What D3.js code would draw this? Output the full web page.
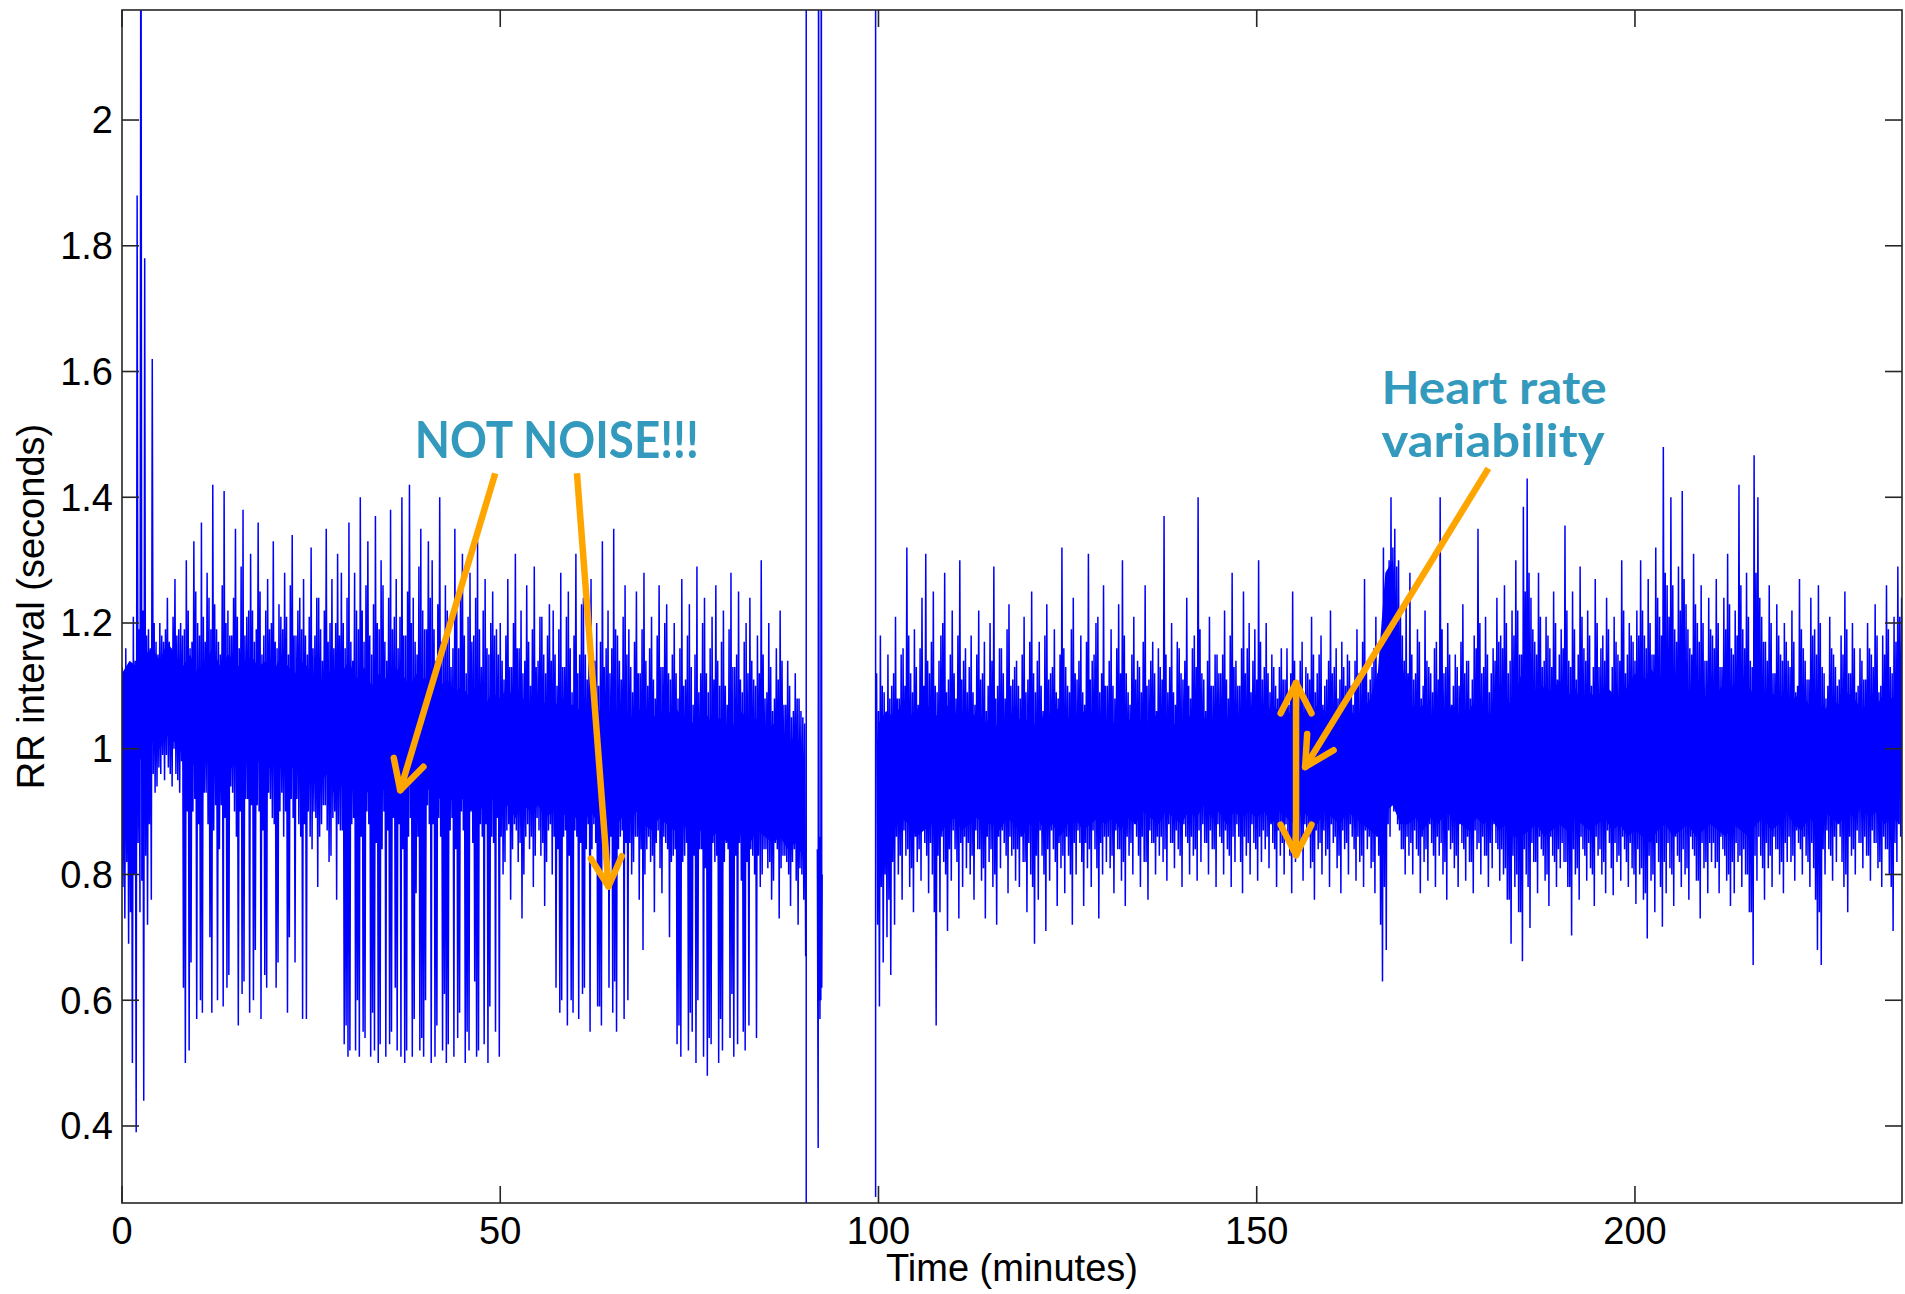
<!DOCTYPE html>
<html>
<head>
<meta charset="utf-8">
<script src="https://cdn.jsdelivr.net/npm/d3@7"></script>
<style>
  html, body { margin: 0; padding: 0; background: #ffffff; }
  svg { display: block; }
</style>
</head>
<body>
<svg id="chart" width="1905" height="1294"></svg>
<script>
// RR-interval record, decimated to half-minute bins. For every bin:
// Hi / Lo   - longest and shortest beat-to-beat interval (seconds)
// Hi2 / Lo2 - second longest and second shortest interval
const binMinutes = 0.5;

// First recording segment, 0 - 90 min
const seg1Start = 0;
const seg1Hi = [
  1.13, 1.16, 1.12, 1.21, 1.88, 2.60, 1.78, 1.19, 1.62, 1.17, 1.20,
  1.17, 1.24, 1.16, 1.27, 1.19,
  1.18, 1.30, 1.16, 1.33, 1.20, 1.36, 1.17, 1.24, 1.42, 1.19, 1.15, 1.41, 1.22, 1.18, 1.35, 1.16, 1.38, 1.21,
  1.31, 1.17, 1.36, 1.15, 1.22, 1.19, 1.33, 1.16, 1.21, 1.28, 1.15, 1.34, 1.18, 1.24,
  1.27, 1.15, 1.32, 1.18, 1.24, 1.14, 1.35, 1.20, 1.16, 1.31,
  1.28, 1.16, 1.36, 1.14, 1.22, 1.40, 1.17, 1.33, 1.15, 1.37, 1.19, 1.26, 1.14, 1.38, 1.21, 1.16, 1.40, 1.18, 1.42, 1.24, 1.15, 1.35, 1.19, 1.33,
  1.30, 1.14, 1.40, 1.17, 1.22, 1.13, 1.35, 1.16, 1.31, 1.12, 1.28, 1.18, 1.33, 1.13, 1.27, 1.15, 1.25, 1.19,
  1.20, 1.11, 1.27, 1.13, 1.31, 1.16, 1.12, 1.26, 1.10, 1.29, 1.14, 1.21, 1.12, 1.23,
  1.22, 1.10, 1.28, 1.13, 1.25, 1.09, 1.31, 1.15, 1.24, 1.11, 1.27, 1.14, 1.10, 1.33, 1.16, 1.12, 1.35, 1.18, 1.11, 1.26,
  1.19, 1.09, 1.25, 1.12, 1.28, 1.10, 1.21, 1.08, 1.26, 1.13, 1.23, 1.11,
  1.20, 1.08, 1.27, 1.11, 1.23, 1.07, 1.29, 1.12, 1.24, 1.09, 1.21, 1.26, 1.10, 1.22, 1.07, 1.28, 1.13, 1.25, 1.09, 1.20, 1.24, 1.11,
  1.18, 1.30, 1.08, 1.20, 1.06, 1.16, 1.22, 1.07, 1.14, 1.05, 1.12, 1.08, 1.05
];
const seg1Hi2 = [
  1.10, 1.12, 1.08, 1.14, 1.19, 1.22, 1.18, 1.16, 1.20, 1.15, 1.18,
  1.19, 1.17, 1.21, 1.18, 1.20,
  1.19, 1.22, 1.17, 1.25, 1.18, 1.21, 1.28, 1.19, 1.23, 1.17, 1.26, 1.20, 1.18, 1.24, 1.21, 1.29, 1.18, 1.22,
  1.22, 1.19, 1.25, 1.18, 1.27, 1.20, 1.17, 1.23, 1.19, 1.21, 1.26, 1.18, 1.22, 1.19,
  1.18, 1.21, 1.16, 1.24, 1.19, 1.22, 1.17, 1.27, 1.20, 1.18,
  1.20, 1.24, 1.17, 1.28, 1.19, 1.22, 1.26, 1.18, 1.23, 1.20, 1.30, 1.17, 1.24, 1.19, 1.27, 1.21, 1.18, 1.25, 1.20, 1.17, 1.29, 1.22, 1.19, 1.24,
  1.19, 1.23, 1.17, 1.26, 1.20, 1.16, 1.22, 1.25, 1.18, 1.21, 1.17, 1.24, 1.19, 1.22, 1.16, 1.20, 1.18, 1.15,
  1.14, 1.18, 1.13, 1.20, 1.16, 1.22, 1.14, 1.17, 1.19, 1.13, 1.21, 1.15, 1.18, 1.14,
  1.15, 1.19, 1.13, 1.21, 1.16, 1.18, 1.12, 1.23, 1.15, 1.19, 1.14, 1.20, 1.17, 1.13, 1.22, 1.16, 1.19, 1.14, 1.21, 1.15,
  1.13, 1.17, 1.12, 1.19, 1.14, 1.16, 1.11, 1.18, 1.13, 1.20, 1.12, 1.15,
  1.12, 1.16, 1.10, 1.18, 1.13, 1.15, 1.09, 1.20, 1.12, 1.16, 1.11, 1.14, 1.17, 1.10, 1.19, 1.13, 1.15, 1.11, 1.17, 1.12, 1.14, 1.10,
  1.12, 1.15, 1.09, 1.13, 1.08, 1.11, 1.14, 1.07, 1.10, 1.06, 1.08, 1.06, 1.04
];
const seg1Lo = [
  0.73, 0.69, 0.50, 0.39, 0.74, 0.44, 0.72, 0.76, 0.93, 0.97, 0.99,
  0.99, 0.96, 1.00, 0.95, 0.98,
  0.50, 0.52, 0.90, 0.57, 0.60, 0.93, 0.88, 0.58, 0.91, 0.84, 0.59, 0.62, 0.94, 0.90, 0.56, 0.61, 0.92, 0.58,
  0.60, 0.91, 0.57, 0.64, 0.93, 0.89, 0.62, 0.90, 0.86, 0.58, 0.92, 0.66, 0.88, 0.57,
  0.57, 0.86, 0.90, 0.78, 0.88, 0.91, 0.82, 0.89, 0.76, 0.87,
  0.53, 0.51, 0.88, 0.52, 0.51, 0.55, 0.90, 0.51, 0.52, 0.50, 0.84, 0.51, 0.53, 0.89, 0.52, 0.51, 0.50, 0.86, 0.51, 0.77, 0.52, 0.51, 0.91, 0.50,
  0.51, 0.89, 0.52, 0.50, 0.87, 0.51, 0.54, 0.90, 0.50, 0.52, 0.85, 0.51, 0.88, 0.53, 0.50, 0.86, 0.55, 0.51,
  0.80, 0.87, 0.76, 0.88, 0.82, 0.73, 0.86, 0.84, 0.78, 0.89, 0.83, 0.75, 0.87, 0.80,
  0.62, 0.58, 0.86, 0.56, 0.60, 0.87, 0.57, 0.61, 0.84, 0.55, 0.88, 0.59, 0.56, 0.85, 0.62, 0.58, 0.55, 0.86, 0.57, 0.60,
  0.80, 0.86, 0.76, 0.68, 0.84, 0.82, 0.74, 0.87, 0.77, 0.85, 0.70, 0.83,
  0.53, 0.51, 0.83, 0.52, 0.55, 0.50, 0.84, 0.51, 0.48, 0.53, 0.82, 0.50, 0.52, 0.85, 0.54, 0.51, 0.53, 0.79, 0.52, 0.56, 0.83, 0.54,
  0.78, 0.84, 0.81, 0.76, 0.85, 0.73, 0.83, 0.82, 0.75, 0.84, 0.72, 0.80, 0.67
];
const seg1Lo2 = [
  0.78, 0.82, 0.74, 0.80, 0.85, 0.79, 0.83, 0.88, 0.96, 0.94, 0.96,
  0.95, 0.97, 0.94, 0.96, 0.93,
  0.62, 0.90, 0.66, 0.92, 0.88, 0.58, 0.93, 0.70, 0.87, 0.60, 0.91, 0.89, 0.64, 0.93, 0.86, 0.90, 0.63, 0.92,
  0.91, 0.68, 0.90, 0.87, 0.62, 0.92, 0.88, 0.66, 0.93, 0.90, 0.70, 0.89, 0.92, 0.86,
  0.88, 0.90, 0.84, 0.89, 0.86, 0.91, 0.87, 0.83, 0.90, 0.88,
  0.87, 0.56, 0.52, 0.89, 0.60, 0.86, 0.54, 0.88, 0.58, 0.85, 0.53, 0.90, 0.87, 0.55, 0.62, 0.88, 0.84, 0.52, 0.89, 0.57, 0.86, 0.54, 0.60, 0.88,
  0.88, 0.56, 0.86, 0.61, 0.53, 0.89, 0.84, 0.58, 0.87, 0.55, 0.90, 0.63, 0.52, 0.86, 0.88, 0.59, 0.85, 0.89,
  0.86, 0.82, 0.88, 0.84, 0.87, 0.85, 0.80, 0.88, 0.86, 0.83, 0.87, 0.85, 0.82, 0.88,
  0.86, 0.84, 0.60, 0.87, 0.83, 0.58, 0.86, 0.85, 0.62, 0.88, 0.84, 0.85, 0.59, 0.87, 0.82, 0.86, 0.63, 0.84, 0.87, 0.85,
  0.85, 0.82, 0.86, 0.84, 0.80, 0.86, 0.83, 0.85, 0.81, 0.86, 0.84, 0.82,
  0.84, 0.56, 0.82, 0.85, 0.58, 0.83, 0.60, 0.84, 0.81, 0.54, 0.85, 0.83, 0.57, 0.82, 0.84, 0.61, 0.83, 0.85, 0.55, 0.82, 0.84, 0.80,
  0.83, 0.80, 0.84, 0.82, 0.79, 0.84, 0.81, 0.83, 0.80, 0.82, 0.79, 0.81, 0.76
];
// Dense band of the first segment, one value per minute (0 - 90 min)
const seg1CoreTop = [
  1.12, 1.14, 1.13, 1.15, 1.16, 1.14, 1.17, 1.15,
  1.13, 1.15, 1.12, 1.14, 1.16, 1.13, 1.15, 1.14, 1.12, 1.15, 1.13, 1.14, 1.12, 1.15, 1.13, 1.12, 1.14,
  1.12, 1.10, 1.13, 1.11, 1.12, 1.14, 1.11, 1.13, 1.10, 1.12, 1.11, 1.13, 1.12, 1.10, 1.12, 1.11, 1.13, 1.10, 1.11, 1.09,
  1.10, 1.08, 1.09, 1.07, 1.09, 1.08, 1.10, 1.07, 1.08, 1.06, 1.09, 1.07, 1.08, 1.06, 1.07,
  1.07, 1.05, 1.08, 1.06, 1.07, 1.05, 1.06, 1.04, 1.07, 1.05, 1.06, 1.04, 1.05, 1.07, 1.05,
  1.05, 1.03, 1.06, 1.04, 1.05, 1.03, 1.04, 1.06, 1.03, 1.05, 1.02, 1.04, 1.03, 1.01, 1.02, 1.00
];
const seg1CoreBottom = [
  0.98, 0.96, 0.97, 1.00, 1.01, 1.00, 1.02, 1.01,
  0.99, 0.97, 0.98, 0.99, 0.97, 0.98, 0.96, 0.98, 0.99, 0.97, 0.98, 0.96, 0.98, 0.97, 0.98, 0.96, 0.97,
  0.95, 0.94, 0.96, 0.93, 0.94, 0.95, 0.93, 0.94, 0.92, 0.94, 0.93, 0.95, 0.93, 0.94, 0.92, 0.93, 0.94, 0.92, 0.93, 0.91,
  0.92, 0.90, 0.91, 0.90, 0.92, 0.90, 0.91, 0.89, 0.91, 0.90, 0.91, 0.89, 0.90, 0.89, 0.90,
  0.89, 0.88, 0.90, 0.88, 0.89, 0.87, 0.89, 0.88, 0.90, 0.88, 0.87, 0.89, 0.88, 0.87, 0.88,
  0.87, 0.86, 0.88, 0.86, 0.87, 0.85, 0.87, 0.86, 0.85, 0.87, 0.86, 0.85, 0.86, 0.84, 0.85, 0.83
];

// Short burst of beats recorded around 92 min
const seg2Times  = [91.92, 91.98, 92.03, 92.08, 92.14, 92.20, 92.26, 92.32, 92.38, 92.44, 92.50, 92.56];
const seg2Values = [0.84, 0.58, 0.365, 2.60, 0.60, 0.86, 0.57, 0.82, 0.60, 2.60, 0.62, 0.80];

// Second recording segment, 100 - 235 min
const seg3Start = 99.75;
const seg3Hi = [
  1.12, 1.18, 1.09, 1.15,
  1.10, 1.21, 1.08, 1.16, 1.32, 1.12, 1.19, 1.07, 1.24, 1.31,
  1.12, 1.25, 1.09, 1.18, 1.28, 1.11, 1.22, 1.08, 1.30, 1.14,
  1.09, 1.18, 1.07, 1.22, 1.12, 1.06, 1.20, 1.29, 1.10, 1.16, 1.08, 1.23, 1.11,
  1.14, 1.08, 1.21, 1.11, 1.25, 1.09, 1.17, 1.06, 1.23, 1.12, 1.19, 1.08,
  1.32, 1.13, 1.09, 1.24, 1.11, 1.18, 1.07, 1.31, 1.14, 1.20, 1.09, 1.26,
  1.10, 1.19, 1.08, 1.23, 1.30, 1.12, 1.07, 1.21, 1.14, 1.09, 1.26, 1.11, 1.17, 1.06,
  1.13, 1.37, 1.09, 1.20, 1.07, 1.16, 1.11, 1.24, 1.08, 1.18, 1.40, 1.12, 1.06, 1.21, 1.10, 1.15,
  1.12, 1.22, 1.08, 1.28, 1.14, 1.10, 1.25, 1.16, 1.09, 1.19, 1.30, 1.11,
  1.20, 1.09, 1.13, 1.08, 1.16, 1.11, 1.07, 1.25, 1.10, 1.14, 1.08, 1.12, 1.21, 1.09, 1.15,
  1.07, 1.11, 1.22, 1.13, 1.08, 1.17, 1.10, 1.14, 1.07, 1.19, 1.11, 1.27, 1.09, 1.13, 1.21,
  1.12, 1.32, 1.28, 1.40, 1.35, 1.30, 1.18, 1.24,
  1.28, 1.11, 1.19, 1.08, 1.22, 1.13, 1.09, 1.17, 1.40, 1.12, 1.20, 1.07, 1.15, 1.10, 1.23, 1.14, 1.08, 1.18, 1.35, 1.12, 1.21, 1.09, 1.16, 1.24,
  1.18, 1.26, 1.12, 1.22, 1.30, 1.15, 1.385, 1.43, 1.24, 1.17, 1.28, 1.13, 1.21, 1.16, 1.25, 1.11,
  1.19, 1.355, 1.14, 1.25, 1.11, 1.29, 1.16, 1.22, 1.10, 1.27, 1.13, 1.18, 1.24, 1.09, 1.21, 1.15, 1.30, 1.12, 1.20, 1.17,
  1.22, 1.30, 1.18, 1.27, 1.15, 1.32, 1.21, 1.48, 1.26, 1.40, 1.19, 1.29, 1.41, 1.23, 1.16, 1.31, 1.20, 1.26, 1.14, 1.24,
  1.18, 1.27, 1.13, 1.24, 1.31, 1.16, 1.22, 1.42, 1.19, 1.28, 1.14, 1.467, 1.40, 1.21, 1.17, 1.26, 1.12, 1.23, 1.15, 1.20,
  1.14, 1.22, 1.09, 1.27, 1.16, 1.11, 1.24, 1.19, 1.26, 1.13, 1.08, 1.21, 1.15, 1.10, 1.18, 1.25, 1.12, 1.20, 1.09, 1.16,
  1.11, 1.20, 1.15, 1.23, 1.09, 1.18, 1.26, 1.13, 1.21, 1.29, 1.24
];
const seg3Hi2 = [
  1.06, 1.10, 1.04, 1.08,
  1.12, 1.08, 1.15, 1.10, 1.18, 1.09, 1.13, 1.16, 1.10, 1.14,
  1.17, 1.10, 1.14, 1.20, 1.09, 1.15, 1.12, 1.18, 1.11, 1.16,
  1.13, 1.09, 1.15, 1.11, 1.17, 1.10, 1.14, 1.08, 1.16, 1.12, 1.19, 1.10, 1.13,
  1.10, 1.15, 1.09, 1.17, 1.12, 1.14, 1.10, 1.18, 1.11, 1.13, 1.09, 1.15,
  1.16, 1.10, 1.19, 1.12, 1.14, 1.09, 1.17, 1.11, 1.15, 1.21, 1.12, 1.10,
  1.14, 1.10, 1.16, 1.12, 1.18, 1.09, 1.15, 1.11, 1.13, 1.17, 1.10, 1.14, 1.12, 1.16,
  1.11, 1.15, 1.13, 1.09, 1.17, 1.12, 1.14, 1.10, 1.16, 1.13, 1.19, 1.11, 1.14, 1.10, 1.15, 1.12,
  1.15, 1.11, 1.18, 1.13, 1.10, 1.16, 1.12, 1.20, 1.14, 1.11, 1.17, 1.13,
  1.12, 1.15, 1.10, 1.13, 1.11, 1.16, 1.12, 1.14, 1.10, 1.17, 1.13, 1.11, 1.15, 1.12, 1.18,
  1.10, 1.14, 1.12, 1.16, 1.11, 1.13, 1.15, 1.10, 1.14, 1.12, 1.17, 1.13, 1.11, 1.16, 1.12,
  1.10, 1.20, 1.30, 1.32, 1.29, 1.22, 1.14, 1.12,
  1.15, 1.12, 1.17, 1.10, 1.14, 1.12, 1.16, 1.11, 1.19, 1.13, 1.15, 1.10, 1.13, 1.17, 1.12, 1.14, 1.11, 1.16, 1.20, 1.13, 1.15, 1.12, 1.14, 1.17,
  1.16, 1.20, 1.14, 1.18, 1.22, 1.15, 1.25, 1.28, 1.19, 1.15, 1.21, 1.14, 1.18, 1.13, 1.20, 1.15,
  1.16, 1.22, 1.13, 1.19, 1.15, 1.21, 1.14, 1.18, 1.13, 1.20, 1.16, 1.14, 1.19, 1.13, 1.17, 1.14, 1.22, 1.15, 1.18, 1.14,
  1.18, 1.22, 1.16, 1.20, 1.15, 1.24, 1.18, 1.28, 1.21, 1.26, 1.17, 1.22, 1.27, 1.19, 1.15, 1.23, 1.17, 1.20, 1.14, 1.19,
  1.16, 1.20, 1.13, 1.19, 1.23, 1.15, 1.18, 1.26, 1.16, 1.21, 1.13, 1.28, 1.24, 1.17, 1.14, 1.20, 1.12, 1.18, 1.14, 1.17,
  1.13, 1.17, 1.10, 1.19, 1.14, 1.11, 1.18, 1.15, 1.20, 1.12, 1.10, 1.16, 1.13, 1.11, 1.15, 1.19, 1.12, 1.16, 1.10, 1.14,
  1.11, 1.16, 1.13, 1.18, 1.10, 1.15, 1.19, 1.12, 1.17, 1.21, 1.18
];
const seg3Lo = [
  0.59, 0.66, 0.70, 0.64,
  0.72, 0.80, 0.76, 0.83, 0.78, 0.74, 0.82, 0.79, 0.85, 0.77,
  0.80, 0.56, 0.74, 0.82, 0.71, 0.79, 0.84, 0.73, 0.78, 0.81,
  0.80, 0.76, 0.84, 0.79, 0.73, 0.82, 0.78, 0.72, 0.81, 0.85, 0.77, 0.83, 0.79,
  0.78, 0.82, 0.74, 0.80, 0.69, 0.76, 0.83, 0.71, 0.79, 0.84, 0.75, 0.81,
  0.77, 0.83, 0.72, 0.80, 0.85, 0.75, 0.81, 0.78, 0.84, 0.73, 0.80, 0.82,
  0.81, 0.77, 0.84, 0.79, 0.75, 0.83, 0.80, 0.86, 0.78, 0.82, 0.76, 0.85, 0.80, 0.83,
  0.82, 0.79, 0.85, 0.81, 0.84, 0.78, 0.86, 0.80, 0.83, 0.79, 0.82, 0.85, 0.80, 0.84, 0.78, 0.86,
  0.80, 0.84, 0.78, 0.82, 0.86, 0.77, 0.83, 0.80, 0.85, 0.79, 0.82, 0.84,
  0.81, 0.85, 0.78, 0.83, 0.80, 0.86, 0.77, 0.82, 0.84, 0.79, 0.86, 0.81, 0.76, 0.84, 0.80,
  0.83, 0.78, 0.85, 0.81, 0.77, 0.84, 0.80, 0.86, 0.79, 0.82, 0.78, 0.84, 0.81, 0.77, 0.83,
  0.63, 0.68, 0.86, 0.90, 0.88, 0.84, 0.80, 0.83,
  0.80, 0.84, 0.77, 0.82, 0.79, 0.85, 0.78, 0.83, 0.80, 0.76, 0.84, 0.81, 0.78, 0.85, 0.79, 0.82, 0.77, 0.84, 0.80, 0.83, 0.78, 0.81, 0.85, 0.79,
  0.80, 0.76, 0.69, 0.78, 0.74, 0.662, 0.80, 0.715, 0.82, 0.77, 0.84, 0.79, 0.75, 0.83, 0.78, 0.81,
  0.82, 0.78, 0.703, 0.80, 0.76, 0.84, 0.79, 0.81, 0.75, 0.83, 0.80, 0.77, 0.85, 0.767, 0.82, 0.79, 0.84, 0.78, 0.81, 0.753,
  0.80, 0.76, 0.698, 0.79, 0.74, 0.82, 0.717, 0.77, 0.81, 0.75, 0.83, 0.78, 0.80, 0.76, 0.84, 0.79, 0.73, 0.81, 0.77, 0.82,
  0.81, 0.77, 0.84, 0.79, 0.75, 0.77, 0.82, 0.78, 0.80, 0.74, 0.656, 0.79, 0.83, 0.76, 0.81, 0.78, 0.84, 0.80, 0.77, 0.82,
  0.82, 0.79, 0.85, 0.80, 0.83, 0.78, 0.81, 0.68, 0.656, 0.80, 0.84, 0.79, 0.82, 0.86, 0.78, 0.74, 0.83, 0.80, 0.85, 0.81,
  0.83, 0.79, 0.85, 0.81, 0.78, 0.84, 0.80, 0.71, 0.82, 0.86, 0.80
];
const seg3Lo2 = [
  0.72, 0.78, 0.80, 0.76,
  0.82, 0.86, 0.83, 0.87, 0.84, 0.81, 0.86, 0.84, 0.88, 0.83,
  0.85, 0.74, 0.83, 0.86, 0.80, 0.84, 0.87, 0.82, 0.85, 0.86,
  0.85, 0.83, 0.87, 0.84, 0.81, 0.86, 0.84, 0.80, 0.86, 0.87, 0.83, 0.86, 0.84,
  0.84, 0.86, 0.82, 0.85, 0.78, 0.83, 0.87, 0.80, 0.84, 0.87, 0.82, 0.85,
  0.83, 0.86, 0.80, 0.85, 0.87, 0.82, 0.85, 0.84, 0.87, 0.81, 0.85, 0.86,
  0.86, 0.83, 0.87, 0.84, 0.82, 0.86, 0.85, 0.88, 0.83, 0.86, 0.82, 0.87, 0.85, 0.86,
  0.86, 0.84, 0.88, 0.85, 0.87, 0.83, 0.88, 0.85, 0.86, 0.84, 0.87, 0.88, 0.85, 0.87, 0.84, 0.88,
  0.85, 0.87, 0.83, 0.86, 0.88, 0.82, 0.86, 0.85, 0.88, 0.84, 0.86, 0.87,
  0.86, 0.88, 0.84, 0.87, 0.85, 0.88, 0.83, 0.86, 0.87, 0.84, 0.88, 0.86, 0.82, 0.87, 0.85,
  0.87, 0.84, 0.88, 0.86, 0.83, 0.87, 0.85, 0.88, 0.84, 0.86, 0.83, 0.87, 0.86, 0.82, 0.86,
  0.72, 0.78, 0.88, 0.91, 0.90, 0.87, 0.84, 0.86,
  0.85, 0.87, 0.83, 0.86, 0.84, 0.88, 0.83, 0.86, 0.85, 0.82, 0.87, 0.85, 0.83, 0.88, 0.84, 0.86, 0.82, 0.87, 0.85, 0.86, 0.83, 0.85, 0.88, 0.84,
  0.84, 0.81, 0.76, 0.83, 0.80, 0.74, 0.84, 0.78, 0.85, 0.82, 0.86, 0.83, 0.80, 0.86, 0.82, 0.84,
  0.85, 0.82, 0.78, 0.84, 0.81, 0.86, 0.83, 0.85, 0.80, 0.86, 0.84, 0.82, 0.87, 0.81, 0.85, 0.83, 0.86, 0.82, 0.85, 0.80,
  0.84, 0.81, 0.77, 0.83, 0.80, 0.85, 0.78, 0.82, 0.85, 0.80, 0.86, 0.82, 0.84, 0.81, 0.86, 0.83, 0.79, 0.85, 0.82, 0.85,
  0.85, 0.82, 0.86, 0.83, 0.80, 0.82, 0.85, 0.83, 0.84, 0.80, 0.74, 0.83, 0.86, 0.81, 0.85, 0.83, 0.86, 0.84, 0.82, 0.85,
  0.86, 0.83, 0.87, 0.84, 0.86, 0.82, 0.85, 0.76, 0.74, 0.84, 0.87, 0.83, 0.86, 0.88, 0.82, 0.80, 0.86, 0.84, 0.87, 0.85,
  0.86, 0.83, 0.87, 0.85, 0.82, 0.86, 0.84, 0.78, 0.85, 0.88, 0.84
];
// Dense band of the second segment, one value per minute (100 - 235 min)
const seg3CoreStart = 100;
const seg3CoreTop = [
  1.04, 1.06, 1.05, 1.07, 1.05, 1.06, 1.08, 1.06, 1.05, 1.07, 1.06, 1.04, 1.06, 1.05, 1.04,
  1.05, 1.03, 1.05, 1.06, 1.04, 1.05, 1.03, 1.06, 1.05, 1.07, 1.05, 1.04, 1.06, 1.05, 1.04,
  1.05, 1.04, 1.06, 1.05, 1.03, 1.05, 1.04, 1.06, 1.05, 1.04, 1.03, 1.05, 1.07, 1.05, 1.04, 1.06, 1.05, 1.04, 1.06, 1.05,
  1.06, 1.05, 1.07, 1.06, 1.05, 1.07, 1.06, 1.05, 1.07, 1.06, 1.05, 1.06, 1.07, 1.05, 1.06, 1.08,
  1.12, 1.28, 1.30, 1.15,
  1.08, 1.06, 1.07, 1.05, 1.08, 1.06, 1.07, 1.05, 1.06, 1.08, 1.07, 1.05, 1.06, 1.07, 1.08,
  1.12, 1.10, 1.08, 1.10, 1.09, 1.11, 1.08, 1.10, 1.07, 1.09, 1.08, 1.10, 1.09, 1.07, 1.10,
  1.12, 1.10, 1.13, 1.11, 1.09, 1.12, 1.10, 1.08, 1.10, 1.09, 1.07, 1.09, 1.11, 1.10, 1.12,
  1.10, 1.08, 1.07, 1.09, 1.08, 1.06, 1.08, 1.09, 1.07, 1.08, 1.06, 1.08, 1.07, 1.09, 1.08, 1.06, 1.08, 1.07, 1.09, 1.08, 1.10
];
const seg3CoreBottom = [
  0.86, 0.88, 0.87, 0.89, 0.88, 0.86, 0.87, 0.88, 0.86, 0.88, 0.89, 0.87, 0.88, 0.89, 0.88,
  0.88, 0.87, 0.89, 0.88, 0.86, 0.88, 0.89, 0.87, 0.88, 0.86, 0.88, 0.89, 0.87, 0.88, 0.89,
  0.88, 0.89, 0.87, 0.89, 0.88, 0.90, 0.89, 0.88, 0.90, 0.89, 0.88, 0.90, 0.89, 0.91, 0.89, 0.90, 0.88, 0.90, 0.89, 0.90,
  0.89, 0.90, 0.88, 0.90, 0.89, 0.88, 0.90, 0.89, 0.88, 0.90, 0.89, 0.88, 0.90, 0.89, 0.88, 0.87,
  0.86, 0.90, 0.91, 0.88,
  0.88, 0.89, 0.87, 0.89, 0.88, 0.90, 0.89, 0.88, 0.87, 0.89, 0.88, 0.89, 0.87, 0.88, 0.86,
  0.86, 0.87, 0.88, 0.86, 0.87, 0.88, 0.87, 0.89, 0.88, 0.87, 0.88, 0.89, 0.87, 0.88, 0.86,
  0.87, 0.86, 0.85, 0.87, 0.88, 0.86, 0.87, 0.88, 0.86, 0.87, 0.88, 0.87, 0.86, 0.88, 0.87,
  0.86, 0.88, 0.89, 0.87, 0.88, 0.90, 0.88, 0.87, 0.89, 0.88, 0.90, 0.89, 0.88, 0.90, 0.89, 0.91, 0.89, 0.90, 0.88, 0.89, 0.88
];

// Lead-off artefacts that run past both ends of the axis
const artefactTimes = [90.45, 99.62];
const artefactLow   = [0.10, 0.287];
const artefactHigh  = [3.00, 3.00];

// Axes
const xDomain = [0, 235.3];
const yDomain = [0.2775, 2.175];
const xTicks = [0, 50, 100, 150, 200];
const yTicks = [0.4, 0.6, 0.8, 1, 1.2, 1.4, 1.6, 1.8, 2];
const xTitle = "Time (minutes)";
const yTitle = "RR interval (seconds)";

// Annotations, placed in data units (minutes, seconds)
const noiseLabel = { text: "NOT NOISE!!!", t: 38.7, v: 1.462 };
const noiseArrows = [
  { from: [49.34, 1.438], to: [36.78, 0.934] },
  { from: [60.14, 1.438], to: [64.31, 0.781] }
];
const hrvLabel = [
  { text: "Heart rate",  t: 166.5, v: 1.549 },
  { text: "variability", t: 166.5, v: 1.4645 }
];
const hrvArrow = { from: [180.62, 1.446], to: [156.40, 0.971] };
const hrvRange = { t: 155.2, lo: 0.831, hi: 1.1046 };

// ---------------------------------------------------------------------------
const W = 1905, H = 1294;
const plot = { left: 122, right: 1902, top: 10, bottom: 1203 };
const svg = d3.select("#chart");

const x = d3.scaleLinear().domain(xDomain).range([plot.left, plot.right]);
const y = d3.scaleLinear().domain(yDomain).range([plot.bottom, plot.top]);

svg.append("rect").attr("width", W).attr("height", H).attr("fill", "#ffffff");

svg.append("defs").append("clipPath").attr("id", "plotClip")
  .append("rect")
  .attr("x", plot.left).attr("y", plot.top)
  .attr("width", plot.right - plot.left).attr("height", plot.bottom - plot.top);

// Expand each bin into its four extreme beats, in time order:
// longest, second shortest, second longest, shortest
function binsToPoints(start, hi, lo2, hi2, lo) {
  const q = binMinutes / 4;
  const pts = [];
  hi.forEach((h, i) => {
    const t = start + i * binMinutes;
    pts.push([t, h]);
    pts.push([t + q, lo2[i]]);
    pts.push([t + 2 * q, hi2[i]]);
    pts.push([t + 3 * q, lo[i]]);
  });
  return pts;
}

const rrBlue = "#0000ff";
const dataLayer = svg.append("g").attr("clip-path", "url(#plotClip)");

// Dense band (per-minute)
const bands = [
  seg1CoreTop.map((v, i) => ({ t: seg1Start + i, top: v, bottom: seg1CoreBottom[i] })),
  seg3CoreTop.map((v, i) => ({ t: seg3CoreStart + i, top: v, bottom: seg3CoreBottom[i] }))
];
const band = d3.area().x(d => x(d.t)).y0(d => y(d.bottom)).y1(d => y(d.top));
dataLayer.selectAll("path.band").data(bands).join("path")
  .attr("class", "band")
  .attr("d", band)
  .attr("fill", rrBlue);

// Beat-to-beat trace
const line = d3.line()
  .defined(d => Number.isFinite(d[1]))
  .x(d => x(d[0])).y(d => y(d[1]));
const traces = [
  binsToPoints(seg1Start, seg1Hi, seg1Lo2, seg1Hi2, seg1Lo),
  seg2Times.map((t, i) => [t, seg2Values[i]]),
  binsToPoints(seg3Start, seg3Hi, seg3Lo2, seg3Hi2, seg3Lo)
];
artefactTimes.forEach((t, i) => traces.push([[t, artefactLow[i]], [t, artefactHigh[i]]]));

dataLayer.selectAll("path.rr")
  .data(traces)
  .join("path")
  .attr("class", "rr")
  .attr("d", line)
  .attr("fill", "none")
  .attr("stroke", rrBlue)
  .attr("stroke-width", 1.5)
  .attr("stroke-linejoin", "miter");

// Frame and inward ticks on all four sides
const axisColor = "#262626";
const tickLen = 17;
const frame = svg.append("g").attr("stroke", axisColor).attr("stroke-width", 1.6).attr("fill", "none");
frame.append("rect")
  .attr("x", plot.left).attr("y", plot.top)
  .attr("width", plot.right - plot.left).attr("height", plot.bottom - plot.top);

xTicks.forEach(t => {
  const px = x(t);
  frame.append("line").attr("x1", px).attr("x2", px).attr("y1", plot.bottom).attr("y2", plot.bottom - tickLen);
  frame.append("line").attr("x1", px).attr("x2", px).attr("y1", plot.top).attr("y2", plot.top + tickLen);
});
yTicks.forEach(v => {
  const py = y(v);
  frame.append("line").attr("x1", plot.left).attr("x2", plot.left + tickLen).attr("y1", py).attr("y2", py);
  frame.append("line").attr("x1", plot.right).attr("x2", plot.right - tickLen).attr("y1", py).attr("y2", py);
});

const labelFont = "'Liberation Sans', Arial, Helvetica, sans-serif";
const labels = svg.append("g").attr("font-family", labelFont).attr("font-size", 38).attr("fill", "#000");

labels.selectAll("text.xt").data(xTicks).join("text")
  .attr("class", "xt")
  .attr("x", d => x(d)).attr("y", plot.bottom + 41)
  .attr("text-anchor", "middle")
  .text(d => d3.format("~g")(d));

labels.selectAll("text.yt").data(yTicks).join("text")
  .attr("class", "yt")
  .attr("x", plot.left - 9).attr("y", d => y(d))
  .attr("dy", "0.35em")
  .attr("text-anchor", "end")
  .text(d => d3.format("~g")(d));

labels.append("text")
  .attr("x", (plot.left + plot.right) / 2).attr("y", 1281)
  .attr("text-anchor", "middle")
  .text(xTitle);

labels.append("text")
  .attr("transform", `translate(44,${(plot.top + plot.bottom) / 2}) rotate(-90)`)
  .attr("text-anchor", "middle")
  .text(yTitle);

// Annotations
const noteColor = "#339abd";
const arrowColor = "#ffa500";
const notes = svg.append("g");

function arrowHead(g, tip, tail, len, spread) {
  const ang = Math.atan2(tail[1] - tip[1], tail[0] - tip[0]);
  [-spread, spread].forEach(s => {
    g.append("line")
      .attr("x1", tip[0]).attr("y1", tip[1])
      .attr("x2", tip[0] + len * Math.cos(ang + s))
      .attr("y2", tip[1] + len * Math.sin(ang + s));
  });
}

const arrows = notes.append("g")
  .attr("stroke", arrowColor).attr("stroke-width", 6.5)
  .attr("stroke-linecap", "round").attr("fill", "none");

function drawArrow(a) {
  const tail = [x(a.from[0]), y(a.from[1])];
  const tip = [x(a.to[0]), y(a.to[1])];
  arrows.append("line")
    .attr("x1", tail[0]).attr("y1", tail[1]).attr("x2", tip[0]).attr("y2", tip[1])
    .attr("stroke-linecap", "butt");
  arrowHead(arrows, tip, tail, 33, 28 * Math.PI / 180);
}
noiseArrows.forEach(drawArrow);
drawArrow(hrvArrow);

{
  const top = [x(hrvRange.t), y(hrvRange.hi)];
  const bot = [x(hrvRange.t), y(hrvRange.lo)];
  arrows.append("line")
    .attr("x1", top[0]).attr("y1", top[1]).attr("x2", bot[0]).attr("y2", bot[1]);
  arrowHead(arrows, top, bot, 34, 27 * Math.PI / 180);
  arrowHead(arrows, bot, top, 34, 27 * Math.PI / 180);
}

const noteFont = "Lato, 'Open Sans', sans-serif";
notes.append("text")
  .attr("x", x(noiseLabel.t)).attr("y", y(noiseLabel.v))
  .attr("font-family", noteFont).attr("font-weight", 700).attr("font-size", 51)
  .attr("fill", noteColor)
  .attr("textLength", 284).attr("lengthAdjust", "spacingAndGlyphs")
  .text(noiseLabel.text);

notes.selectAll("text.hrv").data(hrvLabel).join("text")
  .attr("class", "hrv")
  .attr("x", d => x(d.t)).attr("y", d => y(d.v))
  .attr("font-family", noteFont).attr("font-weight", 700).attr("font-size", 46)
  .attr("fill", noteColor)
  .attr("textLength", (d, i) => i === 0 ? 225 : 223).attr("lengthAdjust", "spacingAndGlyphs")
  .text(d => d.text);
</script>
</body>
</html>
